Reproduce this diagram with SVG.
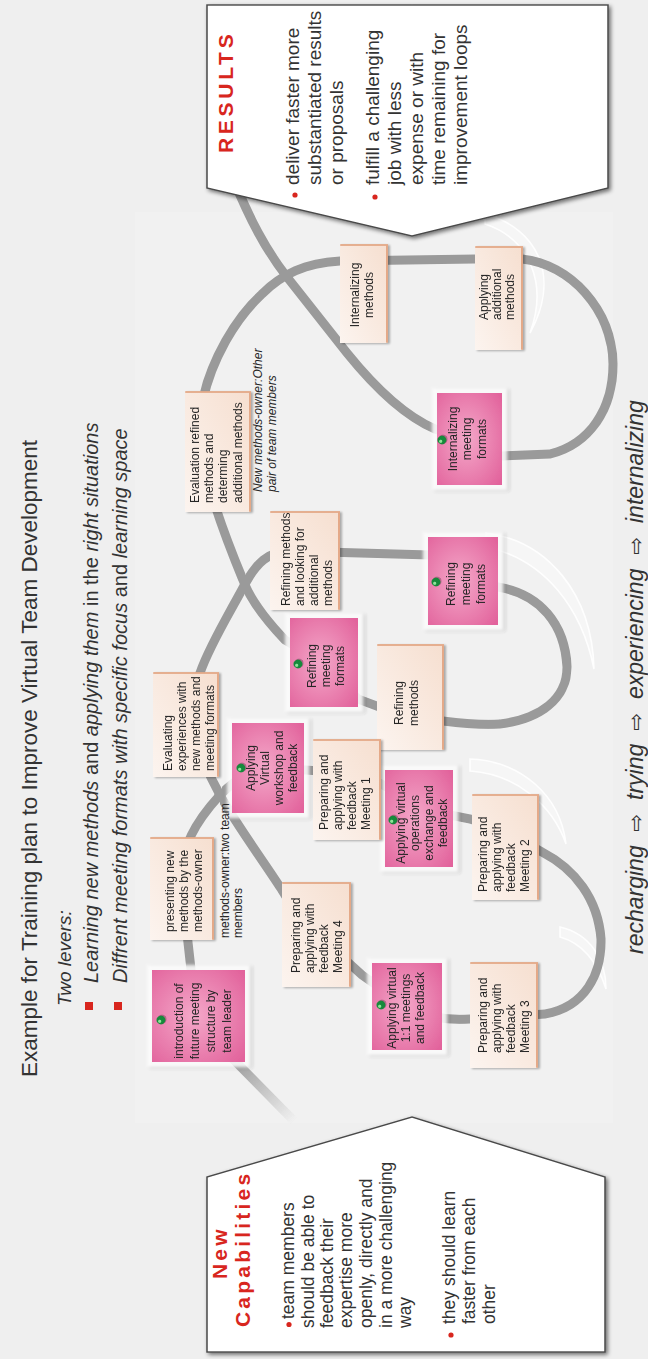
<svg xmlns="http://www.w3.org/2000/svg" width="648" height="1359" viewBox="0 0 648 1359">
<defs>
<style>
.f{font-family:"Liberation Sans",Arial,sans-serif}
.st{font-family:"Liberation Sans",Arial,sans-serif;font-size:12px;fill:#262626}
.sc{text-anchor:middle}
.trk{fill:none;stroke:#9a9a9a;stroke-width:9;stroke-linecap:round;stroke-linejoin:round}
.pk{fill:url(#pkg)}
.halo{fill:#fff;opacity:.85}
.bg{fill:url(#bgg)}
.be{fill:none;stroke:#e4a988;stroke-width:1.8;stroke-linecap:round}
.ghost{fill:#fff;fill-opacity:.35;stroke:#fff;stroke-width:1.6;stroke-opacity:.9}
.box{fill:#fff;stroke:#4a4a4a;stroke-width:1.4}
.hd{font-family:"Liberation Sans",Arial,sans-serif;font-weight:bold;font-size:21px;fill:#d8261e;letter-spacing:3.2px}
.bt{font-family:"Liberation Sans",Arial,sans-serif;fill:#333}
.dot{fill:#d8261e}
.ar{font-family:"DejaVu Sans",sans-serif;font-style:normal;font-size:21px}
</style>
<radialGradient id="pkg" cx="50%" cy="45%" r="70%">
<stop offset="0" stop-color="#f4a8c9"/>
<stop offset="1" stop-color="#e2639c"/>
</radialGradient>
<linearGradient id="bgg" x1="0" y1="0" x2="1" y2="1">
<stop offset="0" stop-color="#fcf4ef"/>
<stop offset="1" stop-color="#f6dfd0"/>
</linearGradient>
<linearGradient id="tailg" gradientUnits="userSpaceOnUse" x1="300" y1="233" x2="238" y2="294">
<stop offset="0" stop-color="#9a9a9a"/>
<stop offset="1" stop-color="#9a9a9a" stop-opacity="0"/>
</linearGradient>
<filter id="sh" x="-10%" y="-10%" width="120%" height="120%">
<feGaussianBlur in="SourceAlpha" stdDeviation="2"/>
<feOffset dx="-2" dy="2"/>
<feComponentTransfer><feFuncA type="linear" slope=".55"/></feComponentTransfer>
<feMerge><feMergeNode/><feMergeNode in="SourceGraphic"/></feMerge>
</filter>
<filter id="ssh" x="-10%" y="-10%" width="120%" height="120%">
<feGaussianBlur in="SourceAlpha" stdDeviation="1.2"/>
<feOffset dx="-1" dy="1.5"/>
<feComponentTransfer><feFuncA type="linear" slope=".3"/></feComponentTransfer>
<feMerge><feMergeNode/><feMergeNode in="SourceGraphic"/></feMerge>
</filter>
<filter id="blur"><feGaussianBlur stdDeviation="1.5"/></filter>
<filter id="soft"><feGaussianBlur stdDeviation="0.6"/></filter>
<g id="pin">
<circle cx="0.8" cy="1" r="4.6" fill="#000" opacity=".25"/>
<circle r="4.4" fill="#17893a"/>
<circle cx="-1.3" cy="-1.3" r="1.6" fill="#8fe39a"/>
</g>
</defs>

<rect width="648" height="1359" fill="#efefef"/>

<!-- drawing laid out in landscape, turned a quarter to read bottom-up -->
<g transform="translate(0 1359) rotate(-90)">

<rect x="236" y="135" width="911" height="478" fill="#f1f1f1"/>

<!-- heading -->
<text class="bt" x="282" y="37" font-size="22.5">Example for Training plan to Improve Virtual Team Development</text>
<text class="bt" x="353" y="71" font-size="19" font-style="italic">Two levers:</text>
<rect class="dot" x="349" y="85" width="8" height="8"/>
<rect class="dot" x="349" y="114" width="8" height="8"/>
<text class="bt" x="376" y="98" font-size="20" font-style="italic">Learning new methods <tspan font-style="normal">and</tspan> applying them <tspan font-style="normal">in the</tspan> right situations</text>
<text class="bt" x="376" y="127" font-size="20" font-style="italic">Diffrent meeting formats with specific focus <tspan font-style="normal">and</tspan> learning space</text>

<!-- white ghost loops behind the track -->
<g id="ghosts">
<path class="ghost" d="M826 486 C818 548 765 592 690 594 C750 582 800 545 812 486 Z"/>
<path class="ghost" d="M600 470 C598 520 565 560 515 566 C555 552 585 515 588 470 Z"/>
<path class="ghost" d="M432 560 C425 590 400 606 370 606 C395 598 415 585 422 560 Z"/>
<path class="ghost" d="M1145 485 C1130 540 1080 560 1026 530 C1075 548 1120 530 1135 485 Z"/>
</g>

<!-- connectors: the learning track -->
<g id="connectors" filter="url(#soft)">
<path d="M300 233 L238 294" fill="none" stroke="url(#tailg)" stroke-width="9" stroke-linecap="round"/>
<path class="trk" d="M300 233 C318 214 330 200 345 196 L470 182 C512 178 540 198 564 220 C580 236 591 252 591 275 L586 350 C582 380 560 400 548 430 L540 470 C532 500 520 520 507 542 C490 575 460 598 420 601 C385 602 352 585 345 545 L340 470 C338 440 345 420 352 407 L384 362 L424 318 C440 300 455 290 469 282 C500 262 535 236 564 220 C590 206 610 198 634 190 L686 200 C715 210 750 232 775 245 C795 256 808 268 808 290 L804 430 L778 463 L772 498 C765 540 735 565 692 567 C660 567 640 540 635 500 C633 470 640 420 648 390 L660 358 L696 324 L719 285 C740 265 760 250 779 243 C820 226 870 208 909 200 L960 203 C1000 212 1040 235 1065 262 C1085 282 1096 305 1098 340 L1100 475 L1100 522 C1095 570 1050 612 995 613 C950 613 915 590 905 550 L903 500 L921 467 L930 435 C945 400 980 368 1006 347 L1082 287 C1110 265 1140 250 1178 234"/>
</g>

<!-- pink meeting-format notes -->
<g id="n-intro" filter="url(#ssh)">
<rect class="halo" x="292" y="147" width="102" height="103" filter="url(#blur)"/>
<rect class="pk" x="297" y="152" width="92" height="93"/>
<text class="st sc"><tspan x="338" y="183">introduction of</tspan><tspan x="338" y="199">future meeting</tspan><tspan x="338" y="215">structure by</tspan><tspan x="338" y="231">team leader</tspan></text>
<use href="#pin" x="339" y="161"/>
</g>
<g id="n-apply-11" filter="url(#ssh)">
<rect class="halo" x="304" y="367" width="97" height="80" filter="url(#blur)"/>
<rect class="pk" x="309" y="372" width="87" height="70"/>
<text class="st sc"><tspan x="351" y="396">Applying virtual</tspan><tspan x="351" y="410">1:1 meetings</tspan><tspan x="351" y="424">and feedback</tspan></text>
<use href="#pin" x="354" y="381"/>
</g>
<g id="n-apply-workshop" filter="url(#ssh)">
<rect class="halo" x="541" y="227" width="100" height="82" filter="url(#blur)"/>
<rect class="pk" x="546" y="232" width="90" height="72"/>
<text class="st sc"><tspan x="591" y="255">Applying</tspan><tspan x="591" y="269">Virtual</tspan><tspan x="591" y="283">workshop and</tspan><tspan x="591" y="297">feedback</tspan></text>
<use href="#pin" x="591" y="241"/>
</g>
<g id="n-refine-formats-1" filter="url(#ssh)">
<rect class="halo" x="647" y="285" width="99" height="78" filter="url(#blur)"/>
<rect class="pk" x="652" y="290" width="89" height="68"/>
<text class="st sc"><tspan x="693" y="316">Refining</tspan><tspan x="693" y="330">meeting</tspan><tspan x="693" y="344">formats</tspan></text>
<use href="#pin" x="695" y="298"/>
</g>
<g id="n-apply-ops" filter="url(#ssh)">
<rect class="halo" x="487" y="380" width="107" height="78" filter="url(#blur)"/>
<rect class="pk" x="492" y="385" width="97" height="68"/>
<text class="st sc"><tspan x="536" y="405">Applying virtual</tspan><tspan x="536" y="419">operations</tspan><tspan x="536" y="433">exchange and</tspan><tspan x="536" y="447">feedback</tspan></text>
<use href="#pin" x="539" y="393"/>
</g>
<g id="n-refine-formats-2" filter="url(#ssh)">
<rect class="halo" x="729" y="423" width="98" height="80" filter="url(#blur)"/>
<rect class="pk" x="734" y="428" width="88" height="70"/>
<text class="st sc"><tspan x="775" y="455">Refining</tspan><tspan x="775" y="470">meeting</tspan><tspan x="775" y="485">formats</tspan></text>
<use href="#pin" x="777" y="436"/>
</g>
<g id="n-internal-formats" filter="url(#ssh)">
<rect class="halo" x="869" y="432" width="102" height="75" filter="url(#blur)"/>
<rect class="pk" x="874" y="437" width="92" height="65"/>
<text class="st sc"><tspan x="920" y="457">Internalizing</tspan><tspan x="920" y="471">meeting</tspan><tspan x="920" y="486">formats</tspan></text>
<use href="#pin" x="919" y="442"/>
</g>

<!-- beige method notes -->
<g id="n-present" filter="url(#ssh)">
<rect class="bg" x="419" y="150" width="102" height="63"/>
<path class="be" d="M521 151 V213 H420"/>
<text class="st"><tspan x="427" y="174">presenting new</tspan><tspan x="427" y="188">methods by the</tspan><tspan x="427" y="202">methods-owner</tspan></text>
</g>
<text class="st" font-size="11.5"><tspan x="421" y="229">methods-owner:two team</tspan><tspan x="421" y="242">members</tspan></text>
<g id="n-evaluate" filter="url(#ssh)">
<rect class="bg" x="582" y="153" width="104" height="65"/>
<path class="be" d="M686 154 V218 H583"/>
<text class="st"><tspan x="588" y="172">Evaluating</tspan><tspan x="588" y="186">experiences with</tspan><tspan x="588" y="200">new methods and</tspan><tspan x="588" y="214">meeting formats</tspan></text>
</g>
<g id="n-eval-refined" filter="url(#ssh)">
<rect class="bg" x="847" y="185" width="120" height="65"/>
<path class="be" d="M967 186 V250 H848"/>
<text class="st"><tspan x="856" y="199">Evaluation refined</tspan><tspan x="856" y="213">methods and</tspan><tspan x="856" y="227">determing</tspan><tspan x="856" y="242">additional methods</tspan></text>
</g>
<text class="st" font-size="10" font-style="italic"><tspan x="867" y="262">New methods-owner:Other</tspan><tspan x="867" y="276">pair of team members</tspan></text>
<g id="n-refine-look" filter="url(#ssh)">
<rect class="bg" x="749" y="270" width="98" height="69"/>
<path class="be" d="M847 271 V339 H750"/>
<text class="st"><tspan x="753" y="290">Refining methods</tspan><tspan x="753" y="304">and looking for</tspan><tspan x="753" y="318">additional</tspan><tspan x="753" y="332">methods</tspan></text>
</g>
<g id="n-refine-methods" filter="url(#ssh)">
<rect class="bg" x="609" y="377" width="105" height="66"/>
<path class="be" d="M714 378 V443 H610"/>
<text class="st sc"><tspan x="656" y="403">Refining</tspan><tspan x="656" y="418">methods</tspan></text>
</g>
<g id="n-meeting1" filter="url(#ssh)">
<rect class="bg" x="519" y="313" width="100" height="67"/>
<path class="be" d="M619 314 V380 H520"/>
<text class="st"><tspan x="529" y="328">Preparing and</tspan><tspan x="529" y="342">applying with</tspan><tspan x="529" y="356">feedback</tspan><tspan x="529" y="370">Meeting 1</tspan></text>
</g>
<g id="n-meeting4" filter="url(#ssh)">
<rect class="bg" x="372" y="282" width="104" height="68"/>
<path class="be" d="M476 283 V350 H373"/>
<text class="st"><tspan x="386" y="300">Preparing and</tspan><tspan x="386" y="314">applying with</tspan><tspan x="386" y="328">feedback</tspan><tspan x="386" y="342">Meeting 4</tspan></text>
</g>
<g id="n-meeting2" filter="url(#ssh)">
<rect class="bg" x="459" y="472" width="105" height="66"/>
<path class="be" d="M564 473 V538 H460"/>
<text class="st"><tspan x="467" y="487">Preparing and</tspan><tspan x="467" y="501">applying with</tspan><tspan x="467" y="515">feedback</tspan><tspan x="467" y="529">Meeting 2</tspan></text>
</g>
<g id="n-meeting3" filter="url(#ssh)">
<rect class="bg" x="291" y="470" width="105" height="67"/>
<path class="be" d="M396 471 V537 H292"/>
<text class="st"><tspan x="306" y="487">Preparing and</tspan><tspan x="306" y="501">applying with</tspan><tspan x="306" y="515">feedback</tspan><tspan x="306" y="529">Meeting 3</tspan></text>
</g>
<g id="n-internal-methods" filter="url(#ssh)">
<rect class="bg" x="1016" y="340" width="98" height="47"/>
<path class="be" d="M1114 341 V387 H1017"/>
<text class="st sc"><tspan x="1064" y="359">Internalizing</tspan><tspan x="1064" y="373">methods</tspan></text>
</g>
<g id="n-apply-additional" filter="url(#ssh)">
<rect class="bg" x="1009" y="475" width="103" height="47"/>
<path class="be" d="M1112 476 V522 H1010"/>
<text class="st"><tspan x="1039" y="488">Applying</tspan><tspan x="1039" y="501">additional</tspan><tspan x="1039" y="514">methods</tspan></text>
</g>

<!-- start callout -->
<g id="n-capabilities">
<polygon class="box" points="7,207 182,207 242,412 182,605 7,605" filter="url(#sh)"/>
<text class="hd" x="80" y="227">New</text>
<text class="hd" x="32" y="250">Capabilities</text>
<circle class="dot" cx="34.5" cy="289" r="2.6"/>
<text class="bt" font-size="17.5"><tspan x="40" y="294">team members</tspan><tspan x="31" y="314">should be able to</tspan><tspan x="31" y="333">feedback their</tspan><tspan x="31" y="352">expertise more</tspan><tspan x="31" y="372">openly, directly and</tspan><tspan x="31" y="392">in a more challenging</tspan><tspan x="31" y="411">way</tspan></text>
<circle class="dot" cx="24" cy="451" r="2.6"/>
<text class="bt" font-size="17.5"><tspan x="35" y="455">they should learn</tspan><tspan x="35" y="475">faster from each</tspan><tspan x="35" y="495">other</tspan></text>
</g>

<!-- end callout -->
<g id="n-results">
<polygon class="box" points="1354,207 1171,207 1123,412 1171,608 1354,608" filter="url(#sh)"/>
<text class="hd" x="1206" y="233" style="letter-spacing:3.7px">RESULTS</text>
<circle class="dot" cx="1164" cy="295" r="2.6"/>
<text class="bt" font-size="19"><tspan x="1174" y="299">deliver faster more</tspan><tspan x="1174" y="321">substantiated results</tspan><tspan x="1174" y="343">or proposals</tspan></text>
<circle class="dot" cx="1162" cy="375" r="2.6"/>
<text class="bt" font-size="19"><tspan x="1174" y="379">fulfill a challenging</tspan><tspan x="1174" y="401">job with less</tspan><tspan x="1174" y="423">expense or with</tspan><tspan x="1174" y="445">time remaining for</tspan><tspan x="1174" y="467">improvement loops</tspan></text>
</g>

<!-- phase line -->
<text class="bt" font-size="23" font-style="italic" y="643"><tspan x="405">recharging</tspan><tspan class="ar" x="527">⇨</tspan><tspan x="559">trying</tspan><tspan class="ar" x="628">⇨</tspan><tspan x="660">experiencing</tspan><tspan class="ar" x="804">⇨</tspan><tspan x="836">internalizing</tspan></text>
</g>
</svg>
